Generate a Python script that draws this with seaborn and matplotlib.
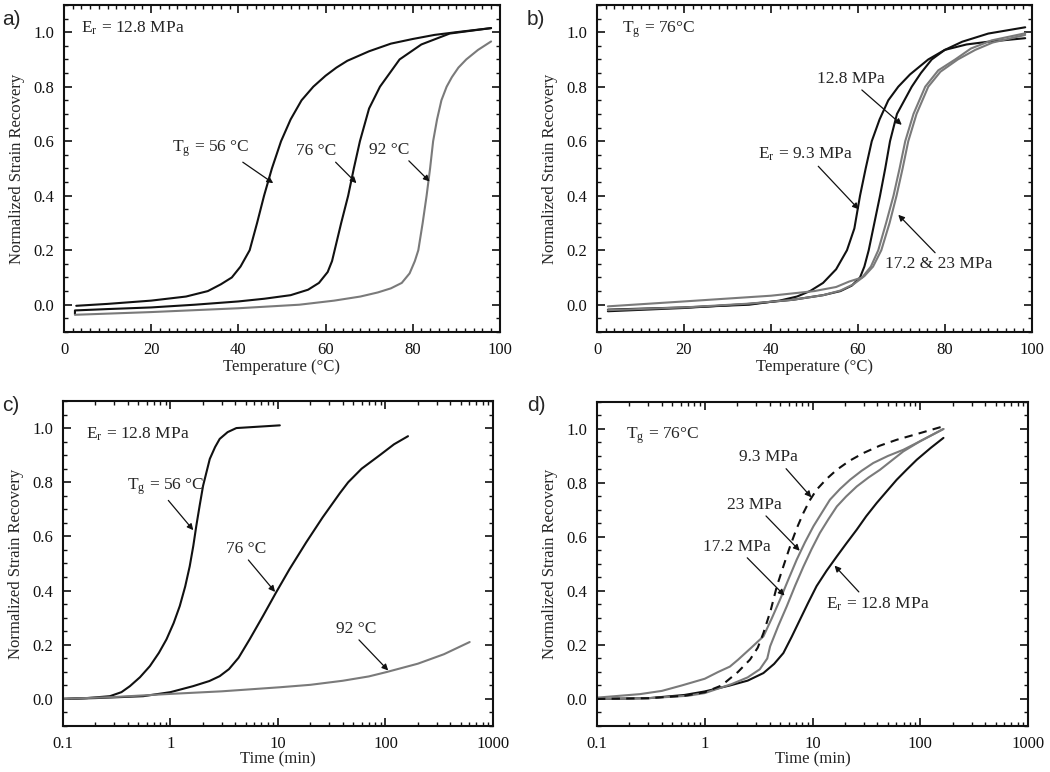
import numpy as np
import pandas as pd
import seaborn as sns
import matplotlib.pyplot as plt
from matplotlib.ticker import MultipleLocator, LogLocator, NullFormatter

# ---- panel a: recovery vs temperature, Er = 12.8 MPa
a_T56_x = [2.8, 10, 20, 28, 33, 36, 38.5, 40.5, 42.6, 44.3, 45.9, 47.7, 49.8, 52, 54.5, 57.2, 60,
           62.5, 65, 70, 75, 80, 85, 90, 98]
a_T56_y = [-0.004, 0.003, 0.015, 0.03, 0.05, 0.075, 0.1, 0.14, 0.2, 0.3, 0.4, 0.5, 0.6, 0.68, 0.75,
           0.8, 0.84, 0.87, 0.895, 0.93, 0.958, 0.975, 0.99, 1.0, 1.015]
a_T76_x = [2.5, 2.5, 10, 20, 30, 40, 46, 52, 56, 58.5, 60.5, 61.5, 62.1, 63.6, 65.2, 66.5, 67.9,
           70, 72.5, 77, 82, 88.5, 98]
a_T76_y = [-0.035, -0.021, -0.016, -0.01, 0.0, 0.012, 0.022, 0.035, 0.055, 0.08, 0.12, 0.16, 0.2,
           0.3, 0.4, 0.5, 0.6, 0.72, 0.8, 0.9, 0.955, 0.995, 1.015]
a_T92_x = [2.5, 20, 40, 54, 62, 68, 72, 75, 77.5, 79.3, 80.5, 81.3, 82.3, 83.2, 84, 84.7, 85.6,
           86.6, 87.8, 89, 90.5, 92.3, 95, 98]
a_T92_y = [-0.037, -0.027, -0.013, 0.0, 0.015, 0.03, 0.045, 0.06, 0.08, 0.115, 0.16, 0.2, 0.3, 0.4,
           0.5, 0.6, 0.68, 0.75, 0.8, 0.835, 0.87, 0.9, 0.935, 0.966]

# ---- panel b: recovery vs temperature, Tg = 76 C
b_E93_x = [2.5, 20, 35, 42, 46, 49, 52, 55, 57.5, 59.2, 60.5, 61.8, 63.2, 65, 67, 69.3, 72, 76.2,
           80, 85, 90, 98.5]
b_E93_y = [-0.018, -0.01, 0.0, 0.015, 0.03, 0.05, 0.08, 0.13, 0.2, 0.28, 0.4, 0.5, 0.6, 0.68,
           0.75, 0.8, 0.845, 0.9, 0.935, 0.955, 0.965, 0.978]
b_E128_x = [2.5, 20, 35, 45, 52, 56, 58.6, 60.5, 61.5, 62.5, 63.8, 65.1, 66.3, 67.4, 69, 72.4,
            74.5, 77, 80, 84, 90, 98.5]
b_E128_y = [-0.024, -0.012, 0.003, 0.018, 0.035, 0.05, 0.07, 0.1, 0.14, 0.2, 0.3, 0.4, 0.5, 0.6,
            0.7, 0.8, 0.85, 0.9, 0.935, 0.965, 0.995, 1.018]
b_E172_x = [2.5, 20, 40, 50, 55, 58, 61, 63, 64.7, 66.5, 68.2, 69.6, 70.9, 72.8, 75.5, 78.5, 82.4,
            86, 90.8, 98.5]
b_E172_y = [-0.006, 0.012, 0.033, 0.05, 0.065, 0.085, 0.1, 0.14, 0.2, 0.3, 0.4, 0.5, 0.6, 0.7,
            0.8, 0.86, 0.9, 0.94, 0.97, 0.996]
b_E23_x = [2.5, 20, 35, 45, 52, 56, 59, 61.5, 63.5, 65.4, 67.3, 68.9, 70.3, 71.6, 73.5, 76.2, 79,
           83, 87, 91, 98.5]
b_E23_y = [-0.02, -0.01, 0.004, 0.018, 0.035, 0.052, 0.075, 0.105, 0.14, 0.2, 0.3, 0.4, 0.5, 0.6,
           0.7, 0.8, 0.855, 0.9, 0.935, 0.962, 0.99]

# ---- panel c: recovery vs time, Er = 12.8 MPa
c_T56_t = [0.1, 0.167, 0.273, 0.35, 0.419, 0.52, 0.643, 0.78, 0.918, 1.07, 1.22, 1.37, 1.51, 1.63,
           1.74, 1.87, 2.01, 2.32, 2.6, 2.87, 3.4, 4.1, 10.4]
c_T56_y = [0.0, 0.003, 0.01, 0.025, 0.047, 0.08, 0.121, 0.17, 0.22, 0.28, 0.343, 0.415, 0.49,
           0.565, 0.64, 0.715, 0.787, 0.886, 0.93, 0.96, 0.985, 1.0, 1.01]
c_T76_t = [0.1, 0.2, 0.557, 1.0, 1.62, 2.3, 2.87, 3.5, 4.3, 5.45, 7.25, 9.6, 12.8, 18.3, 26, 37.7,
           45, 60, 88.6, 120, 162]
c_T76_y = [0.0, 0.003, 0.01, 0.025, 0.047, 0.066, 0.084, 0.11, 0.152, 0.22, 0.306, 0.393, 0.479,
           0.578, 0.67, 0.76, 0.8, 0.85, 0.9, 0.94, 0.97]
c_T92_t = [0.1, 0.3, 1.0, 3.0, 10.4, 20, 40, 70, 102, 200, 350, 607]
c_T92_y = [0.0, 0.007, 0.0185, 0.028, 0.043, 0.052, 0.067, 0.083, 0.099, 0.13, 0.165, 0.21]

# ---- panel d: recovery vs time, Tg = 76 C
d_E128_t = [0.1, 0.3, 0.65, 1.0, 1.71, 2.5, 3.5, 4.4, 5.36, 6.4, 7.65, 9.1, 10.9, 13.5, 16.8,
            20.5, 25.7, 31.5, 39.4, 49, 60.4, 75, 92.7, 125, 164]
d_E128_y = [0.0, 0.003, 0.015, 0.028, 0.05, 0.068, 0.096, 0.13, 0.17, 0.23, 0.294, 0.356, 0.418,
            0.475, 0.528, 0.575, 0.627, 0.677, 0.726, 0.77, 0.812, 0.85, 0.886, 0.93, 0.967]
d_E172_t = [0.1, 0.3, 0.7, 1.0, 1.77, 2.5, 3.24, 3.8, 4.04, 4.8, 5.76, 6.9, 8.22, 9.8, 11.7, 14,
            16.8, 20.5, 25.7, 33, 42.3, 55, 69.6, 100, 164]
d_E172_y = [0.0, 0.003, 0.012, 0.022, 0.055, 0.08, 0.11, 0.15, 0.195, 0.27, 0.343, 0.42, 0.49,
            0.555, 0.615, 0.665, 0.713, 0.75, 0.787, 0.82, 0.849, 0.885, 0.917, 0.955, 1.0]
d_E23_t = [0.1, 0.25, 0.4, 0.61, 1.0, 1.33, 1.71, 2.03, 2.7, 3.5, 4.2, 4.99, 6.0, 7.13, 8.5, 10.2,
           12.2, 14.5, 18, 22.3, 28.5, 36.6, 50, 69.6, 100, 164]
d_E23_y = [0.005, 0.018, 0.03, 0.05, 0.075, 0.1, 0.12, 0.145, 0.19, 0.232, 0.3, 0.368, 0.445,
           0.516, 0.58, 0.64, 0.69, 0.738, 0.778, 0.812, 0.845, 0.874, 0.9, 0.923, 0.955, 1.0]
d_E93_t = [0.1, 0.3, 0.65, 1.0, 1.43, 2.03, 2.63, 3.1, 3.5, 4.1, 4.66, 5.4, 6.18, 7.1, 8.22, 9.4,
           10.9, 13.5, 16.8, 22, 29.7, 42, 60.4, 100, 164]
d_E93_y = [0.0, 0.003, 0.012, 0.025, 0.05, 0.1, 0.146, 0.19, 0.244, 0.33, 0.417, 0.495, 0.565,
           0.63, 0.689, 0.735, 0.775, 0.815, 0.849, 0.882, 0.911, 0.938, 0.96, 0.985, 1.01]

sns.set_style("ticks")
plt.rcParams['font.family'] = ['Liberation Serif', 'DejaVu Serif']
plt.rcParams['mathtext.fontset'] = 'stix'

BLACK = "#111111"
GRAY = "#7a7a7a"

fig = plt.figure(figsize=(10.5, 7.72), dpi=100)
axa = fig.add_axes([0.061, 0.570, 0.415, 0.4236])
axb = fig.add_axes([0.5686, 0.570, 0.414, 0.4236])
axc = fig.add_axes([0.060, 0.0596, 0.4095, 0.421])
axd = fig.add_axes([0.5686, 0.0596, 0.4105, 0.4197])


def curve(ax, x, y, color, ls="-", lw=1.5):
    df = pd.DataFrame({"x": x, "y": y})
    sns.lineplot(data=df, x="x", y="y", ax=ax, color=color, linestyle=ls,
                 linewidth=lw, sort=False, estimator=None)


def style(ax, logx=False):
    ax.set_ylim(-0.1, 1.1)
    ax.set_yticks([0.0, 0.2, 0.4, 0.6, 0.8, 1.0])
    ax.yaxis.set_minor_locator(MultipleLocator(0.05))
    if logx:
        ax.set_xscale("log")
        ax.set_xlim(0.1, 1000)
        ax.set_xticks([0.1, 1, 10, 100, 1000])
        ax.set_xticklabels(["0.1", "1", "10", "100", "1000"])
        ax.xaxis.set_minor_locator(LogLocator(base=10, subs=np.arange(2, 10)))
        ax.xaxis.set_minor_formatter(NullFormatter())
        ax.set_xlabel("Time (min)", fontsize=12, labelpad=0)
    else:
        ax.set_xlim(0, 100)
        ax.set_xticks([0, 20, 40, 60, 80, 100])
        ax.xaxis.set_minor_locator(MultipleLocator(2))
        ax.set_xlabel("Temperature (\u00b0C)", fontsize=12, labelpad=1)
    ax.set_yticklabels(["0.0", "0.2", "0.4", "0.6", "0.8", "1.0"])
    ax.set_ylabel("Normalized Strain Recovery", fontsize=12, labelpad=6)
    ax.tick_params(which="both", direction="in", top=True, right=True,
                   labelsize=12, colors="#111111", pad=7)
    ax.tick_params(which="major", length=6, width=1.2)
    ax.tick_params(which="minor", length=3, width=1.0)
    for s in ax.spines.values():
        s.set_linewidth(1.5)
        s.set_color("#111111")


def note(ax, text, xy, xytext, ha="left", relpos=(0.5, 0.0)):
    ax.annotate(text, xy=xy, xytext=xytext, fontsize=12.5, ha=ha, va="bottom",
                arrowprops=dict(arrowstyle="-|>", color="#111111", lw=0.9,
                                mutation_scale=9, shrinkA=0, shrinkB=0, relpos=relpos))


# panel a
curve(axa, a_T56_x, a_T56_y, BLACK)
curve(axa, a_T76_x, a_T76_y, BLACK)
curve(axa, a_T92_x, a_T92_y, GRAY)
style(axa)
axa.text(4, 1.0, "E$_\\mathregular{r}$ = 12.8 MPa", fontsize=12.5)
note(axa, "T$_\\mathregular{g}$ = 56 \u00b0C", (48, 0.446), (42.6, 0.535), ha="right", relpos=(0.85, 0.0))
note(axa, "76 \u00b0C", (67.1, 0.446), (62.5, 0.535), ha="right", relpos=(0.9, 0.0))
note(axa, "92 \u00b0C", (83.9, 0.452), (79.3, 0.54), ha="right", relpos=(0.9, 0.0))

# panel b
curve(axb, b_E93_x, b_E93_y, BLACK)
curve(axb, b_E128_x, b_E128_y, BLACK)
curve(axb, b_E172_x, b_E172_y, GRAY)
curve(axb, b_E23_x, b_E23_y, GRAY)
style(axb)
axb.text(5.7, 1.0, "T$_\\mathregular{g}$ = 76\u00b0C", fontsize=12.5)
note(axb, "12.8 MPa", (70.1, 0.66), (58.5, 0.80), ha="center", relpos=(0.6, 0.0))
note(axb, "E$_\\mathregular{r}$ = 9.3 MPa", (60.2, 0.35), (48, 0.52), ha="center", relpos=(0.6, 0.0))
note(axb, "17.2 & 23 MPa", (69.3, 0.33), (78.5, 0.12), ha="center", relpos=(0.5, 1.0))

# panel c
curve(axc, c_T56_t, c_T56_y, BLACK)
curve(axc, c_T76_t, c_T76_y, BLACK)
curve(axc, c_T92_t, c_T92_y, GRAY)
style(axc, logx=True)
axc.text(0.162, 0.96, "E$_\\mathregular{r}$ = 12.8 MPa", fontsize=12.5)
note(axc, "T$_\\mathregular{g}$ = 56 \u00b0C", (1.63, 0.623), (0.9, 0.745), ha="center", relpos=(0.5, 0.0))
note(axc, "76 \u00b0C", (9.4, 0.395), (5.0, 0.525), ha="center", relpos=(0.5, 0.0))
note(axc, "92 \u00b0C", (106, 0.105), (53, 0.23), ha="center", relpos=(0.5, 0.0))

# panel d
curve(axd, d_E128_t, d_E128_y, BLACK)
curve(axd, d_E172_t, d_E172_y, GRAY)
curve(axd, d_E23_t, d_E23_y, GRAY)
curve(axd, d_E93_t, d_E93_y, BLACK, ls=(0, (4, 3)))
style(axd, logx=True)
axd.text(0.187, 0.965, "T$_\\mathregular{g}$ = 76\u00b0C", fontsize=12.5)
note(axd, "9.3 MPa", (9.75, 0.747), (3.9, 0.865), ha="center", relpos=(0.75, 0.0))
note(axd, "23 MPa", (7.6, 0.549), (2.9, 0.69), ha="center", relpos=(0.65, 0.0))
note(axd, "17.2 MPa", (5.5, 0.383), (2.0, 0.535), ha="center", relpos=(0.6, 0.0))
note(axd, "E$_\\mathregular{r}$ = 12.8 MPa", (16, 0.494), (40, 0.32), ha="center", relpos=(0.35, 1.0))

for lbl, (x, y) in zip(["a)", "b)", "c)", "d)"],
                       [(0.002, 0.975), (0.502, 0.975), (0.002, 0.475), (0.502, 0.475)]):
    fig.text(x, y, lbl, fontsize=15, family=["Liberation Sans", "DejaVu Sans"], va="center")

fig.savefig("out.png", dpi=100)
